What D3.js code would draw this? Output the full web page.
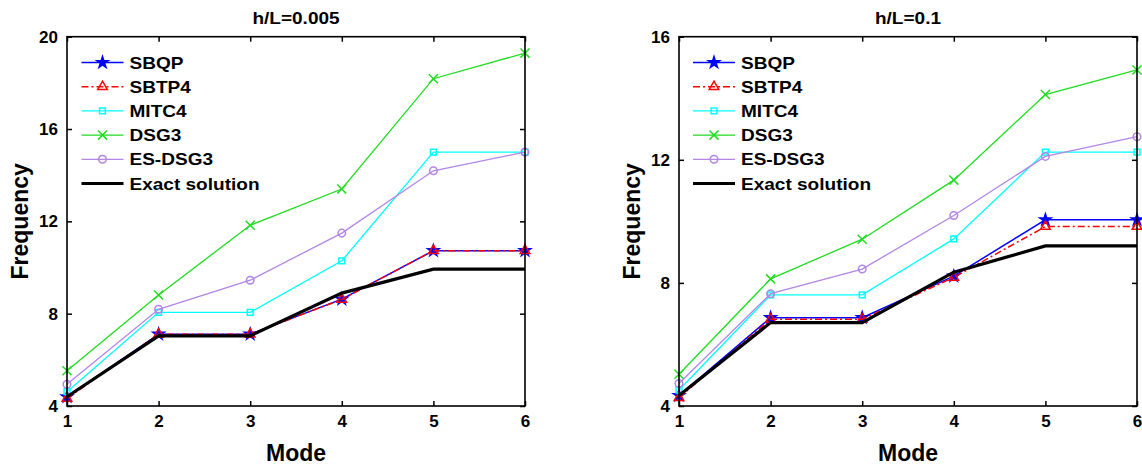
<!DOCTYPE html>
<html><head><meta charset="utf-8">
<script src="https://cdn.jsdelivr.net/npm/d3@7"></script>
<style>body{margin:0;background:#fff}svg{display:block}text{font-family:"Liberation Sans",Arial,sans-serif;font-weight:bold;fill:#000}</style>
</head><body>
<svg id="c" width="1142" height="469"></svg>
<script>
const modes = [1, 2, 3, 4, 5, 6];
const seriesNames = ["SBQP", "SBTP4", "MITC4", "DSG3", "ES-DSG3", "Exact solution"];

// h/L = 0.005
const sbqpA   = [4.40, 7.11, 7.11, 8.63, 10.73, 10.73];
const sbtp4A  = [4.33, 7.11, 7.11, 8.62, 10.73, 10.73];
const mitc4A  = [4.62, 8.06, 8.06, 10.29, 15.00, 15.00];
const dsg3A   = [5.53, 8.81, 11.83, 13.40, 18.18, 19.29];
const esdsg3A = [4.94, 8.19, 9.45, 11.49, 14.19, 15.00];
const exactA  = [4.40, 7.04, 7.04, 8.89, 9.93, 9.93];
const yTicksA = [4, 8, 12, 16, 20];

// h/L = 0.1
const sbqpB   = [4.34, 6.87, 6.87, 8.22, 10.05, 10.05];
const sbtp4B  = [4.27, 6.82, 6.82, 8.18, 9.83, 9.83];
const mitc4B  = [4.52, 7.61, 7.61, 9.43, 12.25, 12.25];
const dsg3B   = [5.03, 8.13, 9.42, 11.34, 14.12, 14.92];
const esdsg3B = [4.73, 7.65, 8.45, 10.19, 12.11, 12.75];
const exactB  = [4.34, 6.71, 6.71, 8.35, 9.20, 9.20];
const yTicksB = [4, 8, 12, 16];

const styles = [
  {color:"#0000ff", width:1.5, dash:null, sym:d3.symbolStar, size:40, fill:true},
  {color:"#ff0000", width:1.5, dash:"7,3,2,3", sym:d3.symbolTriangle, size:40, fill:false},
  {color:"#00ffff", width:1.3, dash:null, sym:d3.symbolSquare, size:34, fill:false},
  {color:"#1fdc1f", width:1.3, dash:null, sym:d3.symbolX, size:55, fill:false},
  {color:"#b385e6", width:1.3, dash:null, sym:d3.symbolCircle, size:45, fill:false},
  {color:"#000000", width:3.2, dash:null, sym:null}
];

const svg = d3.select("#c");

function stretchedText(g, x, y, txt, size, sx, anchor){
  return g.append("text").attr("transform",`translate(${x},${y}) scale(${sx},1)`)
    .attr("text-anchor", anchor).style("font-size", size+"px").text(txt);
}

function panel(opts){
  const {x0, x1, y0, y1, ymax, yTicks, data, title, legX} = opts;
  const g = svg.append("g");
  const x = d3.scaleLinear().domain([1, 6]).range([x0, x1]);
  const y = d3.scaleLinear().domain([4, ymax]).range([y1, y0]);

  // series
  const line = d3.line().x((d,i)=>x(modes[i])).y(d=>y(d));
  data.forEach((vals, k) => {
    const s = styles[k];
    g.append("path").datum(vals).attr("d", line)
      .attr("fill","none").attr("stroke", s.color).attr("stroke-width", s.width)
      .attr("stroke-dasharray", s.dash).attr("stroke-linejoin","miter");
    if (s.sym){
      g.selectAll(null).data(vals).enter().append("path")
        .attr("d", d3.symbol(s.sym, s.size))
        .attr("transform",(d,i)=>`translate(${x(modes[i])},${y(d)})`)
        .attr("fill", s.fill ? s.color : "none")
        .attr("stroke", s.color).attr("stroke-width", 1.5);
    }
  });

  // axes
  const tl = 5;
  g.append("g").attr("transform",`translate(0,${y1})`)
    .call(d3.axisBottom(x).tickValues(modes).tickSizeInner(-tl).tickSizeOuter(0).tickPadding(9).tickFormat(d3.format("d")))
    .call(a=>a.select(".domain").remove());
  g.append("g").attr("transform",`translate(0,${y0})`)
    .call(d3.axisTop(x).tickValues(modes).tickSizeInner(-tl).tickSizeOuter(0).tickFormat(""))
    .call(a=>a.select(".domain").remove());
  g.append("g").attr("transform",`translate(${x0},0)`)
    .call(d3.axisLeft(y).tickValues(yTicks).tickSizeInner(-tl).tickSizeOuter(0).tickPadding(9).tickFormat(d3.format("d")))
    .call(a=>a.select(".domain").remove());
  g.append("g").attr("transform",`translate(${x1},0)`)
    .call(d3.axisRight(y).tickValues(yTicks).tickSizeInner(-tl).tickSizeOuter(0).tickFormat(""))
    .call(a=>a.select(".domain").remove());
  g.selectAll(".tick line").attr("stroke","#000").attr("stroke-width",1.5);
  g.selectAll(".tick text").style("font-size","17px").style("font-family","'Liberation Sans',Arial,sans-serif").style("font-weight","bold").attr("fill","#000");
  g.append("rect").attr("x",x0).attr("y",y0).attr("width",x1-x0).attr("height",y1-y0)
    .attr("fill","none").attr("stroke","#000").attr("stroke-width",1.6);

  // labels
  stretchedText(g, (x0+x1)/2, 24, title, 17, 1.12, "middle");
  g.append("text").attr("x",(x0+x1)/2).attr("y",461).attr("text-anchor","middle").style("font-size","23px").text("Mode");
  g.append("text").attr("transform",`translate(${x0-39},${(y0+y1)/2}) rotate(-90)`).attr("text-anchor","middle").style("font-size","23px").text("Frequency");

  // legend
  const rowY = 62.5, rowH = 24.2;
  seriesNames.forEach((name, k) => {
    const s = styles[k];
    const yy = rowY + k*rowH;
    const lx0 = legX, lx1 = legX + 42;
    g.append("line").attr("x1",lx0).attr("x2",lx1).attr("y1",yy).attr("y2",yy)
      .attr("stroke",s.color).attr("stroke-width",s.width).attr("stroke-dasharray",s.dash);
    if (s.sym){
      g.append("path").attr("d", d3.symbol(s.sym, s.size)).attr("transform",`translate(${(lx0+lx1)/2},${yy})`)
        .attr("fill", s.fill ? s.color : "none").attr("stroke", s.color).attr("stroke-width",1.5);
    }
    stretchedText(g, lx1 + 6, yy + 6, name, 17, 1.12, "start");
  });
}

panel({x0:67, x1:525, y0:36.7, y1:406, ymax:20, yTicks:yTicksA,
  data:[sbqpA, sbtp4A, mitc4A, dsg3A, esdsg3A, exactA], title:"h/L=0.005", legX:81.5});
panel({x0:679, x1:1137, y0:36.7, y1:406, ymax:16, yTicks:yTicksB,
  data:[sbqpB, sbtp4B, mitc4B, dsg3B, esdsg3B, exactB], title:"h/L=0.1", legX:693});
</script>
</body></html>
